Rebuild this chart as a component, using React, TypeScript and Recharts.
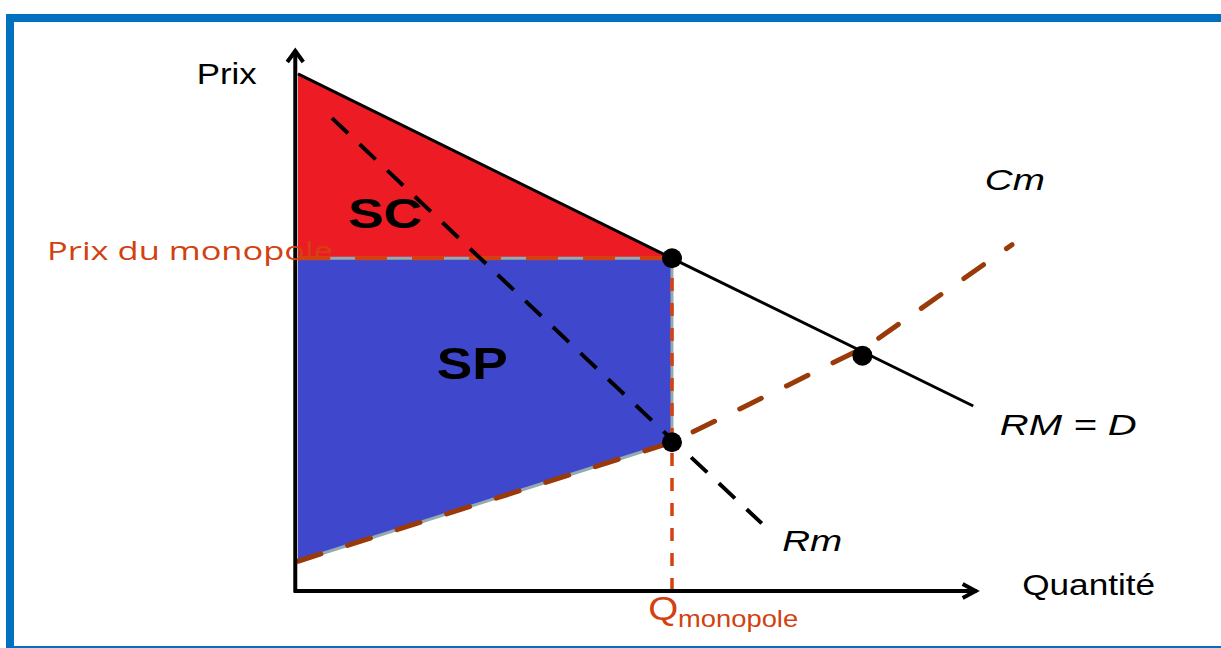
import { Area, ComposedChart, Line, ReferenceDot, ReferenceLine, XAxis, YAxis } from "recharts";

// recette moyenne = demande
const demandQ = [0, 55, 99.3];
const demandP = [95.6, 61.5, 34.2];

// recette marginale
const rmQ = [5, 55, 68.2];
const rmP = [87.4, 28, 12.5];

// coût marginal
const cmQ = [0, 55, 72, 84, 105];
const cmP = [5.5, 27.5, 38, 45.5, 64];

// équilibre du monopole
const qMono = 55;
const pMono = 61.5;
const cMono = 27.5;
const compQ = 83;
const compP = 43.5;

const ORANGE = "#d2410f";
const BROWN = "#9a3a08";
const SANS = "'Liberation Sans', Arial, sans-serif";

const labels = [
  { text: "Prix", q: -14.9, p: 93.7, size: 29, len: 60 },
  { text: "Cm", q: 101, p: 74.1, size: 30, len: 60, italic: true },
  { text: "RM = D", q: 103.2, p: 28.8, size: 30, len: 137, italic: true },
  { text: "Rm", q: 71.2, p: 7.4, size: 30, len: 60, italic: true },
  { text: "Quantité", q: 106.5, p: -0.7, size: 30, len: 133 },
  { text: "SC", q: 7.35, p: 67.1, size: 43, len: 74, bold: true },
  { text: "SP", q: 20.4, p: 39.2, size: 44, len: 71, bold: true },
  { text: "Prix du monopole", q: -36.9, p: 61.2, size: 26, len: 286, color: ORANGE, font: "'Open Sans', sans-serif" },
  { text: "Q", q: 51.5, p: -5.4, size: 33, len: 30, color: ORANGE },
  { text: "monopole", q: 55.9, p: -6.7, size: 24, len: 120, color: ORANGE },
];

const pts = (qs: number[], ps: number[]) => qs.map((q, i) => ({ q, p: ps[i] }));
const demand = pts(demandQ, demandP);
const rm = pts(rmQ, rmP);
const cm = pts(cmQ, cmP);
const surplusConso = demand.filter((d) => d.q <= qMono).map((d) => ({ q: d.q, lo: pMono, hi: d.p }));
const surplusProd = cm.filter((d) => d.q <= qMono).map((d) => ({ q: d.q, lo: d.p, hi: pMono }));
const dots = [
  { q: qMono, p: pMono },
  { q: qMono, p: cMono },
  { q: compQ, p: compP },
];

const axisQ = -0.4;
const axisEnd = { q: 99.8, p: 100 };

export default function App() {
  return (
    <div style={{ position: "absolute", left: 0, top: 0, width: 1221, height: 648, background: "#fff", overflow: "hidden" }}>
      <div
        style={{
          position: "absolute",
          left: 6,
          top: 14,
          width: 1300,
          height: 640,
          boxSizing: "border-box",
          border: "8px solid #0070c0",
        }}
      />
      <div style={{ position: "absolute", left: 0, top: 0 }}>
        <ComposedChart width={1221} height={648} margin={{ top: 50, right: 107, bottom: 57, left: 298 }}>
          <XAxis dataKey="q" type="number" domain={[0, 120]} hide />
          <YAxis dataKey="p" type="number" domain={[0, 100]} hide />

          <Area
            data={surplusConso}
            dataKey={(d: any) => [d.lo, d.hi]}
            type="linear"
            fill="#ed1c24"
            fillOpacity={1}
            stroke="none"
            isAnimationActive={false}
          />
          <Area
            data={surplusProd}
            dataKey={(d: any) => [d.lo, d.hi]}
            type="linear"
            fill="#3f48cc"
            fillOpacity={1}
            stroke="#93abae"
            strokeWidth={3}
            isAnimationActive={false}
          />
          <ReferenceLine
            segment={[{ x: qMono, y: cMono }, { x: qMono, y: pMono }]}
            stroke="#93abae"
            strokeWidth={3}
            ifOverflow="visible"
          />
          <ReferenceLine
            segment={[{ x: 0, y: pMono }, { x: qMono, y: pMono }]}
            stroke={ORANGE}
            strokeWidth={4}
            strokeDasharray="32 25"
            ifOverflow="visible"
          />
          <ReferenceLine
            segment={[{ x: qMono, y: 0 }, { x: qMono, y: pMono }]}
            stroke={ORANGE}
            strokeWidth={3.5}
            strokeDasharray="13 12"
            ifOverflow="visible"
          />

          <Line
            data={cm}
            dataKey="p"
            type="linear"
            stroke={BROWN}
            strokeWidth={5}
            strokeDasharray="24 28"
            strokeLinecap="round"
            dot={false}
            activeDot={false}
            isAnimationActive={false}
          />
          <Line
            data={demand}
            dataKey="p"
            type="linear"
            stroke="#000"
            strokeWidth={3}
            dot={false}
            activeDot={false}
            isAnimationActive={false}
          />
          <Line
            data={rm}
            dataKey="p"
            type="linear"
            stroke="#000"
            strokeWidth={4}
            strokeDasharray="22 16"
            dot={false}
            activeDot={false}
            isAnimationActive={false}
          />

          {dots.map((d, i) => (
            <ReferenceDot key={i} x={d.q} y={d.p} r={10} fill="#000" stroke="none" ifOverflow="visible" />
          ))}

          {labels.map((l, i) => (
            <ReferenceDot
              key={"l" + i}
              x={l.q}
              y={l.p}
              r={0}
              ifOverflow="visible"
              shape={(props: any) => (
                <text
                  x={props.cx}
                  y={props.cy}
                  fill={l.color ?? "#000"}
                  fontFamily={l.font ?? SANS}
                  fontSize={l.size}
                  fontStyle={l.italic ? "italic" : "normal"}
                  fontWeight={l.bold ? "bold" : "normal"}
                  textLength={l.len}
                  lengthAdjust="spacingAndGlyphs"
                >
                  {l.text}
                </text>
              )}
            />
          ))}

          <ReferenceLine
            segment={[{ x: axisQ, y: -0.3 }, { x: axisQ, y: axisEnd.p }]}
            stroke="#000"
            strokeWidth={4}
            ifOverflow="visible"
          />
          <ReferenceLine
            segment={[{ x: axisQ - 0.2, y: 0 }, { x: axisEnd.q, y: 0 }]}
            stroke="#000"
            strokeWidth={4}
            ifOverflow="visible"
          />
          <ReferenceDot
            x={axisQ}
            y={axisEnd.p}
            r={0}
            ifOverflow="visible"
            shape={(props: any) => (
              <path
                d={`M ${props.cx - 8} ${props.cy + 12} L ${props.cx} ${props.cy + 1} L ${props.cx + 8} ${props.cy + 12}`}
                stroke="#000"
                strokeWidth={4}
                fill="none"
              />
            )}
          />
          <ReferenceDot
            x={axisEnd.q}
            y={0}
            r={0}
            ifOverflow="visible"
            shape={(props: any) => (
              <path
                d={`M ${props.cx - 14} ${props.cy - 7} L ${props.cx - 1} ${props.cy} L ${props.cx - 14} ${props.cy + 7}`}
                stroke="#000"
                strokeWidth={4}
                fill="none"
              />
            )}
          />
        </ComposedChart>
      </div>
    </div>
  );
}
